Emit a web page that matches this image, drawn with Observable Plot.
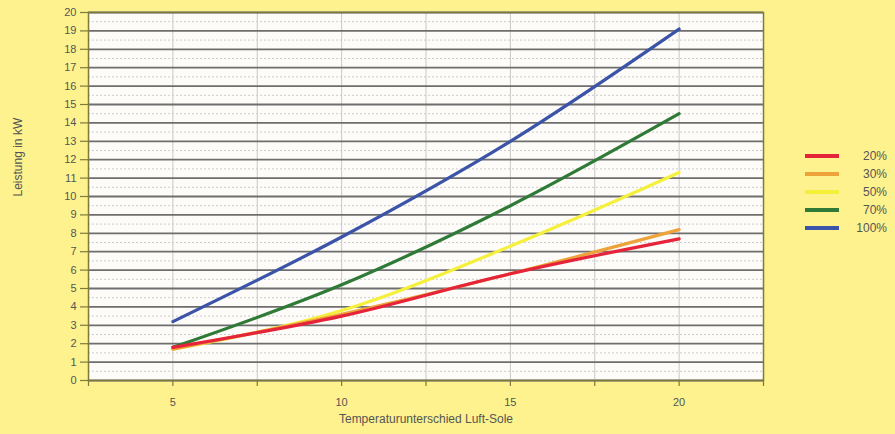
<!DOCTYPE html>
<html><head><meta charset="utf-8">
<script src="https://cdn.jsdelivr.net/npm/d3@7"></script>
<script src="https://cdn.jsdelivr.net/npm/@observablehq/plot@0.6"></script>
<style>
html,body{margin:0;padding:0;background:#fdf28e;}
#wrap{position:relative;width:895px;height:434px;font-family:"Liberation Sans",Arial,sans-serif;}
#legend{position:absolute;left:805px;top:147px;font-size:12px;color:#555;}
#legend .row{display:flex;align-items:center;height:18px;}
#legend .sw{width:34px;height:4px;margin-right:8px;}
#legend .lb{width:40px;text-align:right;}
svg g[aria-label="y-axis tick"] path, svg g[aria-label="x-axis tick"] path{stroke:#7d7a3c;stroke-width:1.2;}
</style></head>
<body><div id="wrap"><div id="legend"></div></div>
<script>
const xs = [5, 10, 15, 20];
const seriesNames = ["20%", "30%", "50%", "70%", "100%"];
const colors = ["#e5243a", "#eea23a", "#f5f03c", "#2f7a36", "#3b54a8"];
const v20 = [1.8, 3.5, 5.8, 7.7];
const v30 = [1.7, 3.6, 5.8, 8.2];
const v50 = [1.7, 3.8, 7.3, 11.3];
const v70 = [1.8, 5.2, 9.5, 14.5];
const v100 = [3.2, 7.8, 13.0, 19.1];
const xTicks = [5, 10, 15, 20];
const xMinor = [2.5, 5, 7.5, 10, 12.5, 15, 17.5, 20, 22.5];
const yTicks = d3.range(0, 21);
const yHalf = d3.range(0.5, 20, 1);

const values = [v20, v30, v50, v70, v100];
const data = [];
// draw 100% first so that 20% ends up on top
for (let i = seriesNames.length - 1; i >= 0; i--) {
  xs.forEach((x, j) => data.push({s: seriesNames[i], x, y: values[i][j]}));
}

const chart = Plot.plot({
  width: 895, height: 434,
  marginLeft: 88, marginRight: 132, marginTop: 12, marginBottom: 54,
  style: {background: "transparent", fontFamily: "Liberation Sans, Arial, sans-serif", fontSize: "11px", color: "#555"},
  x: {domain: [2.5, 22.5], ticks: xMinor, tickFormat: d => xTicks.includes(d) ? String(d) : "", tickSize: 6, tickPadding: 12, label: null},
  y: {domain: [0, 20], ticks: yTicks, tickSize: 8, tickPadding: 4, label: null},
  color: {domain: seriesNames, range: colors},
  marks: [
    Plot.frame({fill: "#fdfcf8"}),
    Plot.ruleY(yHalf, {stroke: "#cccccc", strokeWidth: 1, strokeDasharray: "2,2"}),
    Plot.ruleX(xMinor, {stroke: "#c8c8c8", strokeWidth: 1}),
    Plot.ruleY(yTicks, {stroke: "#6e6e6e", strokeWidth: 1.8}),
    Plot.line(data, {x: "x", y: "y", z: "s", stroke: "s", strokeWidth: 3.2, curve: "monotone-x"}),
    Plot.frame({stroke: "#7d7a3c", strokeWidth: 1.5}),
    Plot.text(["Temperaturunterschied Luft-Sole"], {frameAnchor: "bottom", dy: 42, fill: "#555", fontSize: 12}),
    Plot.text(["Leistung in kW"], {frameAnchor: "left", dx: -70, rotate: -90, fill: "#555", fontSize: 12})
  ]
});
document.getElementById("wrap").prepend(chart);
const leg = document.getElementById("legend");
seriesNames.forEach((s, i) => {
  const r = document.createElement("div"); r.className = "row";
  r.innerHTML = `<div class="sw" style="background:${colors[i]}"></div><div class="lb">${s}</div>`;
  leg.appendChild(r);
});
</script></body></html>
